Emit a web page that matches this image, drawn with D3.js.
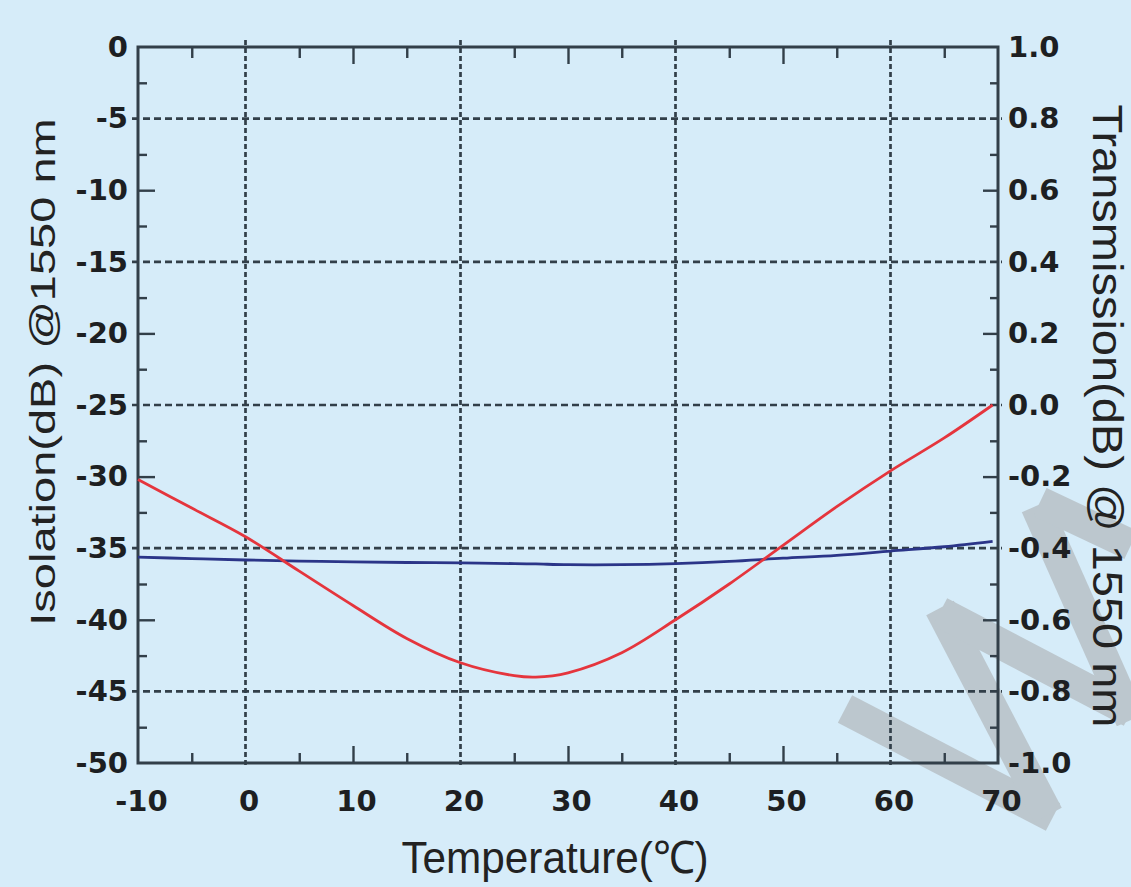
<!DOCTYPE html>
<html lang="en">
<head>
    <meta charset="UTF-8">
    <title>Isolation and Transmission vs Temperature</title>
    <script src="https://cdn.jsdelivr.net/npm/d3@7/dist/d3.min.js"></script>
    <style>
        body{
            margin: 0;
            background-color: #d6ecf9;
        }
    </style>
</head>
<body>
<script>
    // values
    const temps = [-10, -5, 0, 5, 10, 15, 20, 25, 27, 30, 35, 40, 45, 50, 55, 60, 65, 69.5];
    const isolation = [-30.2, -32.2, -34.2, -36.6, -39.0, -41.3, -43.0, -43.9, -44.0, -43.7, -42.3, -40.0, -37.5, -34.8, -32.1, -29.6, -27.3, -25.0];
    const transmission = [-0.425, -0.429, -0.433, -0.436, -0.438, -0.440, -0.441, -0.443, -0.444, -0.446, -0.446, -0.443, -0.437, -0.428, -0.420, -0.408, -0.396, -0.381];

    // tick values
    const xLabels = [-10, 0, 10, 20, 30, 40, 50, 60, 70];
    const xGrid = [0, 20, 40, 60];
    const leftLabels = [0, -5, -10, -15, -20, -25, -30, -35, -40, -45, -50];
    const leftGrid = [-5, -15, -25, -35, -45];
    const rightLabels = [1.0, 0.8, 0.6, 0.4, 0.2, 0.0, -0.2, -0.4, -0.6, -0.8, -1.0];

    const width = 1131;
    const height = 887;
    const plot = { left: 138, right: 998, top: 47, bottom: 763 };
    const ink = "#323f49";

    const svg = d3.select("body")
        .append("svg")
        .attr("width", width)
        .attr("height", height);

    svg.append("rect")
        .attr("width", width)
        .attr("height", height)
        .attr("fill", "#d6ecf9");

    // watermark strokes behind the chart
    const wm = [
        [[845, 709], [1053, 817]],
        [[940, 608], [1048, 815]],
        [[940, 612], [1131, 712]],
        [[1036, 506], [1131, 720]],
        [[1040, 502], [1131, 545]]
    ];
    svg.append("g")
        .selectAll("line")
        .data(wm)
        .enter().append("line")
        .attr("x1", d => d[0][0]).attr("y1", d => d[0][1])
        .attr("x2", d => d[1][0]).attr("y2", d => d[1][1])
        .attr("stroke", "#bcc7ce")
        .attr("stroke-width", 31);

    const x = d3.scaleLinear().domain([-10, 70]).range([plot.left, plot.right]);
    const yL = d3.scaleLinear().domain([-50, 0]).range([plot.bottom, plot.top]);
    const yR = d3.scaleLinear().domain([-1, 1]).range([plot.bottom, plot.top]);

    // dashed grid
    svg.append("g")
        .selectAll("line")
        .data(xGrid)
        .enter().append("line")
        .attr("x1", d => x(d)).attr("x2", d => x(d))
        .attr("y1", plot.top - 7).attr("y2", plot.bottom + 4)
        .attr("stroke", ink)
        .attr("stroke-width", 2.7)
        .attr("stroke-dasharray", "5,3");

    svg.append("g")
        .selectAll("line")
        .data(leftGrid)
        .enter().append("line")
        .attr("x1", plot.left - 6).attr("x2", plot.right + 4)
        .attr("y1", d => yL(d)).attr("y2", d => yL(d))
        .attr("stroke", ink)
        .attr("stroke-width", 2.7)
        .attr("stroke-dasharray", "7,4");

    // small helper for tick-only axes
    function ticks(axis, values, size, transform) {
        const g = svg.append("g")
            .attr("transform", transform)
            .call(axis.tickValues(values).tickSize(size).tickFormat(""));
        g.select(".domain").remove();
        g.selectAll("line").attr("stroke", ink).attr("stroke-width", 2.4);
    }

    const bottomT = `translate(0,${plot.bottom})`;
    const topT = `translate(0,${plot.top})`;
    const leftT = `translate(${plot.left},0)`;
    const rightT = `translate(${plot.right},0)`;

    ticks(d3.axisBottom(x), [10, 30, 50], -17, bottomT);
    ticks(d3.axisBottom(x), d3.range(-5, 70, 10), -10, bottomT);
    ticks(d3.axisTop(x), [10, 30, 50], -17, topT);
    ticks(d3.axisTop(x), d3.range(-5, 70, 10), -11, topT);
    ticks(d3.axisLeft(yL), [-40, -30, -20, -10], -17, leftT);
    ticks(d3.axisLeft(yL), d3.range(-47.5, 0, 5), -9, leftT);
    ticks(d3.axisRight(yR), [-0.6, -0.2, 0.2, 0.6], -15, rightT);
    ticks(d3.axisRight(yR), [-0.9, -0.7, -0.5, -0.3, -0.1, 0.1, 0.3, 0.5, 0.7, 0.9], -8, rightT);

    // frame
    svg.append("rect")
        .attr("x", plot.left)
        .attr("y", plot.top)
        .attr("width", plot.right - plot.left)
        .attr("height", plot.bottom - plot.top)
        .attr("fill", "none")
        .attr("stroke", ink)
        .attr("stroke-width", 3);

    // tick labels
    function labels(axis, values, fmt, pad, transform) {
        const g = svg.append("g")
            .attr("transform", transform)
            .call(axis.tickValues(values).tickSize(0).tickPadding(pad).tickFormat(fmt));
        g.select(".domain").remove();
        g.selectAll("text")
            .style("font-family", "'DejaVu Sans', sans-serif")
            .style("font-weight", "bold")
            .style("font-size", "29px")
            .attr("fill", "#1d1f22");
        return g;
    }

    labels(d3.axisBottom(x), xLabels, d => String(d), 27, bottomT)
        .selectAll("text").attr("dx", 3);
    labels(d3.axisLeft(yL), leftLabels, d => String(d), 10, leftT);
    labels(d3.axisRight(yR), rightLabels, d => d.toFixed(1), 10, rightT);

    // curves
    const lineL = d3.line()
        .x((d, i) => x(temps[i]))
        .y(d => yL(d))
        .curve(d3.curveCatmullRom);
    const lineR = d3.line()
        .x((d, i) => x(temps[i]))
        .y(d => yR(d))
        .curve(d3.curveCatmullRom);

    svg.append("path")
        .datum(transmission)
        .attr("d", lineR)
        .attr("fill", "none")
        .attr("stroke", "#2b3588")
        .attr("stroke-width", 2.8);

    svg.append("path")
        .datum(isolation)
        .attr("d", lineL)
        .attr("fill", "none")
        .attr("stroke", "#e5353d")
        .attr("stroke-width", 2.8);

    // axis titles (the picture is squeezed sideways, so the text is too)
    const titleFont = "'Liberation Sans', Arial, sans-serif";

    svg.append("text")
        .attr("transform", "translate(55,372) scale(0.76,1) rotate(-90)")
        .attr("text-anchor", "middle")
        .style("font-family", titleFont)
        .style("font-size", "47px")
        .attr("fill", "#222")
        .text("Isolation(dB) @1550 nm");

    svg.append("text")
        .attr("transform", "translate(1093,416) scale(0.92,1) rotate(90)")
        .attr("text-anchor", "middle")
        .style("font-family", titleFont)
        .style("font-size", "47px")
        .attr("fill", "#222")
        .text("Transmission(dB) @ 1550 nm");

    svg.append("text")
        .attr("transform", "translate(555,873) scale(0.94,1)")
        .attr("text-anchor", "middle")
        .style("font-family", titleFont)
        .style("font-size", "45px")
        .attr("fill", "#222")
        .text("Temperature(℃)");
</script>
</body>
</html>
